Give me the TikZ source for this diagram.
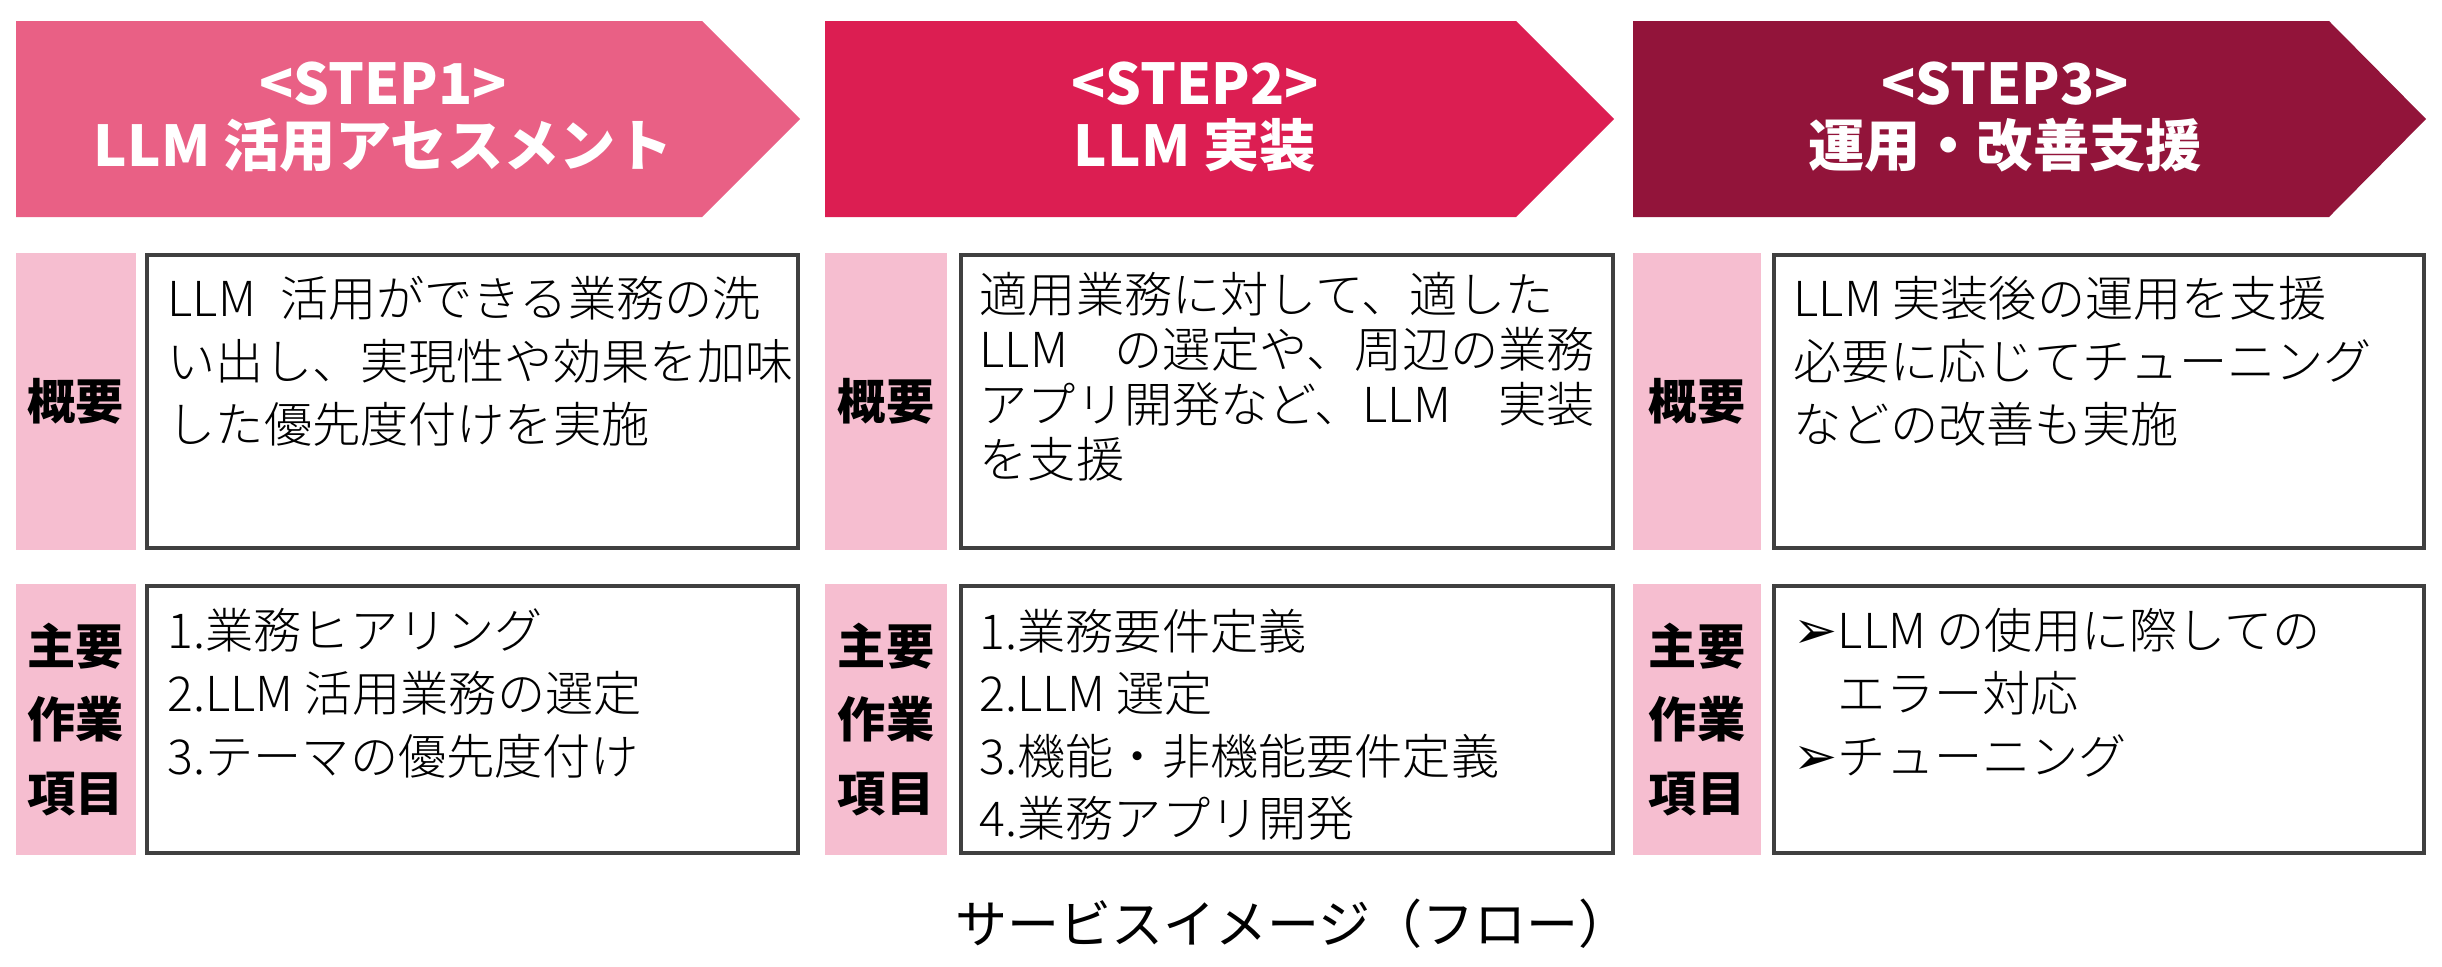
\documentclass[tikz,border=0pt]{standalone}
\usepackage{fontspec}
\setmainfont{Noto Sans CJK JP}
\newfontfamily\lightcjk{Noto Sans CJK JP Light}
\newfontfamily\symfont{DejaVu Sans}
\usepackage{tikz}
\usetikzlibrary{positioning, calc}
\XeTeXlinebreaklocale "ja"
\XeTeXlinebreakskip=0pt plus 4pt

\definecolor{stepone}{RGB}{233, 96, 133}
\definecolor{steptwo}{RGB}{220, 30, 82}
\definecolor{stepthree}{RGB}{146, 20, 58}
\definecolor{labelpink}{RGB}{246, 190, 208}
\definecolor{boxgray}{RGB}{64, 64, 64}

\newcommand{\headfont}{\fontsize{16pt}{17.6pt}\selectfont\bfseries}
\newcommand{\labelfont}{\fontsize{13.7pt}{21pt}\selectfont\bfseries}
\newcommand{\bodyfont}{\lightcjk\fontsize{13.7pt}{17.8pt}\selectfont}
\newcommand{\capfont}{\fontsize{14.8pt}{17pt}\selectfont}
\newcommand{\arrowbullet}{{\symfont\fontsize{15pt}{15pt}\selectfont ➢}}
\newcommand{\fullline}[1]{\makebox[6.15cm][s]{#1}}

\begin{document}
\begin{tikzpicture}[x=0.01cm, y=-0.01cm,
  headtext/.style={text=white, font=\headfont, align=center, inner sep=0pt},
  labelbox/.style={fill=labelpink, inner sep=0pt, font=\labelfont, align=center},
  contentbox/.style={draw=boxgray, line width=1.15pt, fill=white, inner sep=0pt},
  bodytext/.style={font=\bodyfont, align=left, inner sep=0pt, anchor=north west}]
  \useasboundingbox (0,0) rectangle (2442,966);

  % Step 1
  \fill[stepone] (16,21) -- (702,21) -- (800,119) -- (702,217) -- (16,217) -- cycle;
  \node[headtext] (step1) at (383,117) {<STEP1>\\LLM 活用アセスメント};
  \node[labelbox, minimum width=1.20cm, minimum height=2.97cm] (sum1) at (76,401.5) {概要};
  \node[contentbox, minimum width=6.51cm, minimum height=2.93cm] (sumbox1) at (472.5,401.5) {};
  \node[bodytext] (sumtext1) at (167,276) {LLM\enspace 活用ができる業務の洗\\い出し、実現性や効果を加味\\した優先度付けを実施};
  \node[labelbox, minimum width=1.20cm, minimum height=2.71cm] (task1) at (76,719.5) {主要\\作業\\項目};
  \node[contentbox, minimum width=6.51cm, minimum height=2.67cm] (taskbox1) at (472.5,719.5) {};
  \node[bodytext] (tasktext1) at (167,608) {1.業務ヒアリング\\2.LLM 活用業務の選定\\3.テーマの優先度付け};

  % Step 2
  \fill[steptwo] (825,21) -- (1516,21) -- (1614,119) -- (1516,217) -- (825,217) -- cycle;
  \node[headtext] (step2) at (1195,117) {<STEP2>\\LLM 実装};
  \node[labelbox, minimum width=1.22cm, minimum height=2.97cm] (sum2) at (886,401.5) {概要};
  \node[contentbox, minimum width=6.52cm, minimum height=2.93cm] (sumbox2) at (1287,401.5) {};
  \node[bodytext, font=\lightcjk\fontsize{13.7pt}{15.6pt}\selectfont] (sumtext2) at (979,272)
    {\fullline{適用業務に対して、適した}\\\fullline{LLM の選定や、周辺の業務}\\\fullline{アプリ開発など、LLM 実装}\\を支援};
  \node[labelbox, minimum width=1.22cm, minimum height=2.71cm] (task2) at (886,719.5) {主要\\作業\\項目};
  \node[contentbox, minimum width=6.52cm, minimum height=2.67cm] (taskbox2) at (1287,719.5) {};
  \node[bodytext] (tasktext2) at (979,608) {1.業務要件定義\\2.LLM 選定\\3.機能・非機能要件定義\\4.業務アプリ開発};

  % Step 3
  \fill[stepthree] (1633,21) -- (2329,21) -- (2426,119) -- (2329,217) -- (1633,217) -- cycle;
  \node[headtext] (step3) at (2005,117) {<STEP3>\\運用・改善支援};
  \node[labelbox, minimum width=1.28cm, minimum height=2.97cm] (sum3) at (1697,401.5) {概要};
  \node[contentbox, minimum width=6.50cm, minimum height=2.93cm] (sumbox3) at (2099,401.5) {};
  \node[bodytext] (sumtext3) at (1793,276) {LLM 実装後の運用を支援\\必要に応じてチューニング\\などの改善も実施};
  \node[labelbox, minimum width=1.28cm, minimum height=2.71cm] (task3) at (1697,719.5) {主要\\作業\\項目};
  \node[contentbox, minimum width=6.50cm, minimum height=2.67cm] (taskbox3) at (2099,719.5) {};
  \node[bodytext] (tasktext3) at (1793,608) {\arrowbullet LLM の使用に際しての\\\hphantom{\arrowbullet}エラー対応\\\arrowbullet チューニング};

  % Caption
  \node[font=\capfont, inner sep=0pt] (caption) at (1293,924) {サービスイメージ（フロー）};
\end{tikzpicture}
\end{document}
